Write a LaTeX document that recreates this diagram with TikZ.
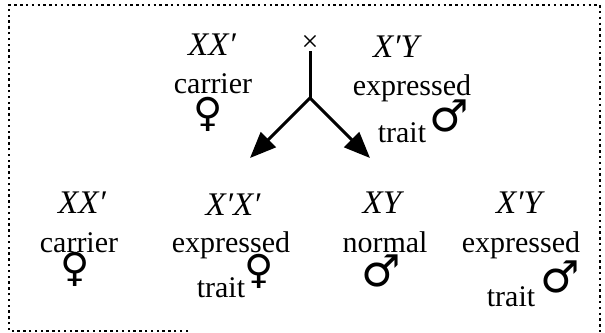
\documentclass[tikz,border=0pt]{standalone}
\usepackage{fontspec}
\setmainfont{Liberation Serif}
\newfontfamily\symfont{DejaVu Sans}
\usetikzlibrary{arrows.meta}
\tikzset{
  gen/.style={inner sep=0pt, anchor=base, font=\fontsize{33}{33}\selectfont\itshape},
  lab/.style={inner sep=0pt, anchor=base, font=\fontsize{30}{30}\selectfont},
  fem/.style={inner sep=0pt, font=\fontsize{40}{40}\selectfont\symfont},
  mal/.style={inner sep=0pt, font=\fontsize{44}{44}\selectfont\symfont\bfseries},
  frame/.style={line width=2.4pt, dash pattern=on 2.4pt off 3.4pt},
  arr/.style={line width=3pt, -{Triangle[length=26pt,width=21pt]}}
}
\begin{document}
\begin{tikzpicture}[x=1pt,y=-1pt]
\useasboundingbox (0,0) rectangle (605,332);
\draw[frame] (188,331) -- (9,331) -- (9,5) -- (600,5) -- (600,332);
% parents
\node[gen] (p1) at (212,55) {XX′};
\node[lab] (p1l) at (213,93) {carrier};
\node[fem] (p1s) at (208,114) {♀};
\node[lab, anchor=center, font=\fontsize{30}{30}\selectfont] (cross) at (310,43) {×};
\node[gen] (p2) at (396,57) {X′Y};
\node[lab] (p2l) at (412,95) {expressed};
\node[lab] (p2t) at (402,142) {trait};
\node[mal] (p2s) at (449,116) {♂};
% fork
\coordinate (fork) at (310,98);
\coordinate (tipL) at (250,158);
\coordinate (tipR) at (370,158);
\draw[line width=3pt] (cross.south) -- (fork);
\draw[arr] (fork) -- (tipL);
\draw[arr] (fork) -- (tipR);
% children
\node[gen] (c1) at (82,213) {XX′};
\node[lab] (c1l) at (79,252) {carrier};
\node[fem] (c1s) at (75,269) {♀};
\node[gen] (c2) at (233,215) {X′X′};
\node[lab] (c2l) at (231,252) {expressed};
\node[lab] (c2t) at (221,297) {trait};
\node[fem] (c2s) at (259,271) {♀};
\node[gen] (c3) at (382,213) {XY};
\node[lab] (c3l) at (385,252) {normal};
\node[mal] (c3s) at (381,271) {♂};
\node[gen] (c4) at (519,213) {X′Y};
\node[lab] (c4l) at (521,252) {expressed};
\node[lab] (c4t) at (511,306) {trait};
\node[mal] (c4s) at (560,277) {♂};
\end{tikzpicture}
\end{document}
